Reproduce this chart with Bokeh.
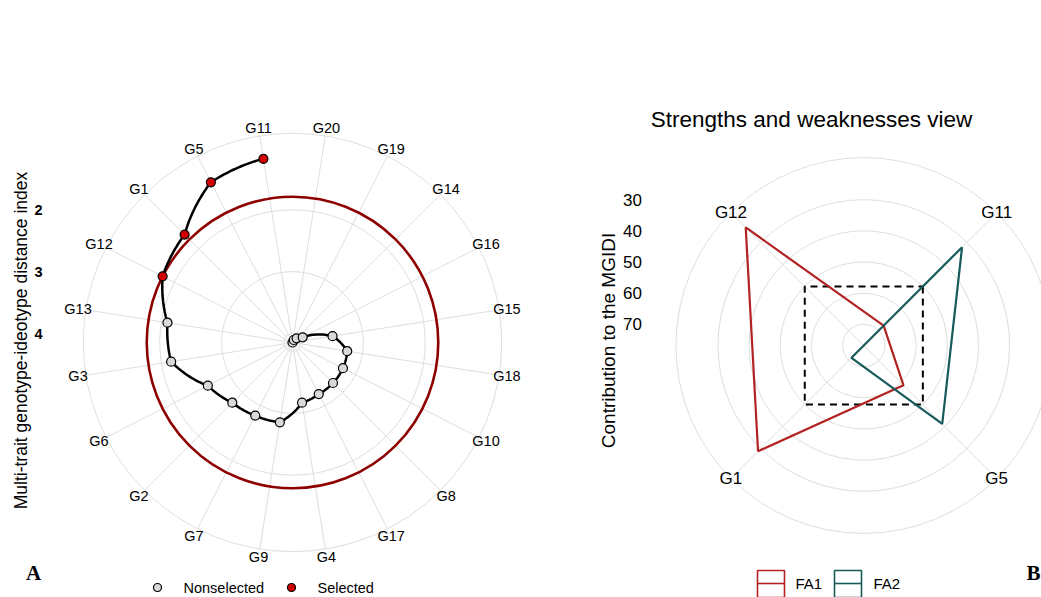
import numpy as np
from bokeh.plotting import figure
from bokeh.models import Range1d
from bokeh.core.properties import value
from bokeh.embed import file_html
from bokeh.resources import INLINE

# ---------------- data: panel A (MGIDI) ----------------
genotypes_a = ["G20", "G19", "G14", "G16", "G15", "G18", "G10", "G8", "G17", "G4",
               "G9", "G7", "G2", "G6", "G3", "G13", "G12", "G1", "G5", "G11"]
mgidi = [4.145, 4.10, 4.05, 3.96, 3.49, 3.25, 3.23, 3.22, 3.21, 3.16,
         2.84, 2.82, 2.77, 2.61, 2.16, 2.10, 1.79, 1.68, 1.24, 1.14]
selected = ["G12", "G1", "G5", "G11"]
ticks_a = [2, 3, 4]
legend_a = ["Nonselected", "Selected"]
ytitle_a = "Multi-trait genotype-ideotype distance index"

# ---------------- data: panel B (strengths & weaknesses) ----------------
genotypes_b = ["G11", "G5", "G1", "G12"]
fa1 = [67.8, 58.8, 28.8, 23.2]
fa2 = [32.2, 41.2, 71.2, 76.8]
factors = ["FA1", "FA2"]
ideal = 50
ticks_b = [30, 40, 50, 60, 70]
title_b = "Strengths and weaknesses view"
ytitle_b = "Contribution to the MGIDI"

# ---------------- layout / style ----------------
FW, FH, M = 1041, 597, 0
CAX, CAY, KA = 292.0, 342.0, 465.0      # panel A centre (page px) and px per polar unit
CBX, CBY, KB = 863.3, 345.0, 417.5      # panel B centre
FONT = value("Liberation Sans")
GRID = "#DEDEDE"
TXT = "#000000"
RED_SEL = "#D00000"
GREY_NS = "#D9D9D9"
CUT_COL = "#8E0000"
FA_COLORS = ["#B22222", "#175A5A"]


def ax(sx): return (sx - CAX) / KA
def ay(sy): return (CAY - sy) / KA
def bx(sx): return (sx - CBX) / KB
def by(sy): return (CBY - sy) / KB


def thetas(n):
    return [(i + 0.5) * 2 * np.pi / n for i in range(n)]


def rscale(v, vmax, vmin):
    return 0.4 * (vmax - np.asarray(v, dtype=float)) / (vmax - vmin)


p = figure(width=FW, height=FH, output_backend="svg", toolbar_location=None,
           x_range=Range1d(ax(M), ax(M + FW)), y_range=Range1d(ay(M + FH), ay(M)),
           x_axis_location=None, y_axis_location=None, min_border=0,
           outline_line_color=None, background_fill_color="white",
           border_fill_color="white")
p.grid.visible = False
p.extra_x_ranges = {"b": Range1d(bx(M), bx(M + FW))}
p.extra_y_ranges = {"b": Range1d(by(M + FH), by(M))}

# ================= Panel A =================
na = len(genotypes_a)
tha = np.array(thetas(na))
vmax_a, vmin_a = max(mgidi), min(mgidi)
ra = rscale(mgidi, vmax_a, vmin_a)

grid_r_a = list(rscale(ticks_a, vmax_a, vmin_a)) + [0.45]
p.circle(x=[0] * len(grid_r_a), y=[0] * len(grid_r_a), radius=grid_r_a,
         fill_color=None, line_color=GRID, line_width=1)
p.multi_line(xs=[[0, 0.45 * np.sin(t)] for t in tha], ys=[[0, 0.45 * np.cos(t)] for t in tha],
             line_color=GRID, line_width=1)
cut = max(v for g, v in zip(genotypes_a, mgidi) if g in selected)
p.circle(x=[0], y=[0], radius=[float(rscale([cut], vmax_a, vmin_a)[0])],
         fill_color=None, line_color=CUT_COL, line_width=2.6)
px_, py_ = [], []
for i in range(na - 1):
    for t in np.linspace(0, 1, 20, endpoint=False):
        th = tha[i] + t * (tha[i + 1] - tha[i])
        rr = ra[i] + t * (ra[i + 1] - ra[i])
        px_.append(rr * np.sin(th)); py_.append(rr * np.cos(th))
px_.append(ra[-1] * np.sin(tha[-1])); py_.append(ra[-1] * np.cos(tha[-1]))
p.line(px_, py_, line_color="black", line_width=2.5)
cols = [RED_SEL if g in selected else GREY_NS for g in genotypes_a]
p.scatter(ra * np.sin(tha), ra * np.cos(tha), size=9, fill_color=cols,
          line_color="black", line_width=1.2)
rl = 0.467
p.text(rl * np.sin(tha), rl * np.cos(tha), text=genotypes_a, text_font=FONT,
       text_font_size=value("14.5px"), text_align="center", text_baseline="middle",
       text_color=TXT)
ty = rscale(ticks_a, vmax_a, vmin_a)
p.text([ax(38)] * len(ticks_a), list(ty), text=[str(t) for t in ticks_a], text_font=FONT,
       text_font_size=value("14.5px"), text_font_style="bold", text_align="center",
       text_baseline="middle", text_color=TXT)
p.text([ax(20)], [ay(340)], text=[ytitle_a], angle=np.pi / 2, text_font=FONT,
       text_font_size=value("17.5px"), text_align="center", text_baseline="middle",
       text_color=TXT)
p.scatter([ax(157), ax(291)], [ay(587), ay(587)], size=8,
          fill_color=[GREY_NS, RED_SEL], line_color="black", line_width=1.2)
p.text([ax(183), ax(317)], [ay(587), ay(587)], text=legend_a, text_font=FONT,
       text_font_size=value("14.5px"), text_align="left", text_baseline="middle",
       text_color=TXT)
p.text([ax(33)], [ay(572)], text=["A"], text_font=value("Liberation Serif"),
       text_font_size=value("21px"), text_font_style="bold", text_align="center",
       text_baseline="middle", text_color="black")

# ================= Panel B =================
nb = len(genotypes_b)
thb = np.array(thetas(nb))
allv = fa1 + fa2
vmax_b, vmin_b = max(allv), min(allv)
kw = dict(x_range_name="b", y_range_name="b")

grid_r_b = list(rscale(ticks_b, vmax_b, vmin_b)) + [0.45]
p.circle(x=[0] * len(grid_r_b), y=[0] * len(grid_r_b), radius=grid_r_b,
         fill_color=None, line_color=GRID, line_width=1, **kw)
p.multi_line(xs=[[0, 0.45 * np.sin(t)] for t in thb], ys=[[0, 0.45 * np.cos(t)] for t in thb],
             line_color=GRID, line_width=1, **kw)

ri = rscale([ideal] * nb, vmax_b, vmin_b)
ix = list(ri * np.sin(thb)); iy = list(ri * np.cos(thb))
p.line(ix + ix[:1], iy + iy[:1], line_color="black", line_width=2, line_dash="7 5", **kw)

for vals, col in zip([fa1, fa2], FA_COLORS):
    rr = rscale(vals, vmax_b, vmin_b)
    xx = list(rr * np.sin(thb)); yy = list(rr * np.cos(thb))
    p.line(xx + xx[:1], yy + yy[:1], line_color=col, line_width=2.2, **kw)

rlb = 0.45
p.text(rlb * np.sin(thb), rlb * np.cos(thb), text=genotypes_b, text_font=FONT,
       text_font_size=value("17px"), text_align="center", text_baseline="middle",
       text_color=TXT, **kw)
tyb = rscale(ticks_b, vmax_b, vmin_b)
p.text([bx(632)] * len(ticks_b), list(tyb), text=[str(t) for t in ticks_b], text_font=FONT,
       text_font_size=value("17px"), text_align="center", text_baseline="middle",
       text_color=TXT, **kw)
p.text([bx(608)], [by(340)], text=[ytitle_b], angle=np.pi / 2, text_font=FONT,
       text_font_size=value("19px"), text_align="center", text_baseline="middle",
       text_color=TXT, **kw)
p.text([bx(811)], [by(119)], text=[title_b], text_font=FONT,
       text_font_size=value("22.5px"), text_align="center", text_baseline="middle",
       text_color=TXT, **kw)

key_left = [757, 834]
text_left = [795, 873]
for name, col, kl, tl in zip(factors, FA_COLORS, key_left, text_left):
    p.quad(left=[bx(kl)], right=[bx(kl + 27)], top=[by(570)], bottom=[by(597)],
           fill_color=None, line_color=col, line_width=1.6, **kw)
    p.line([bx(kl), bx(kl + 27)], [by(583), by(583)], line_color=col, line_width=1.6, **kw)
    p.text([bx(tl)], [by(583)], text=[name], text_font=FONT, text_font_size=value("15px"),
           text_align="left", text_baseline="middle", text_color=TXT, **kw)

p.text([bx(1040)], [by(572)], text=["B"], text_font=value("Liberation Serif"),
       text_font_size=value("21px"), text_font_style="bold", text_align="right",
       text_baseline="middle", text_color="black", **kw)

open("out.html", "w").write(file_html(p, INLINE))
